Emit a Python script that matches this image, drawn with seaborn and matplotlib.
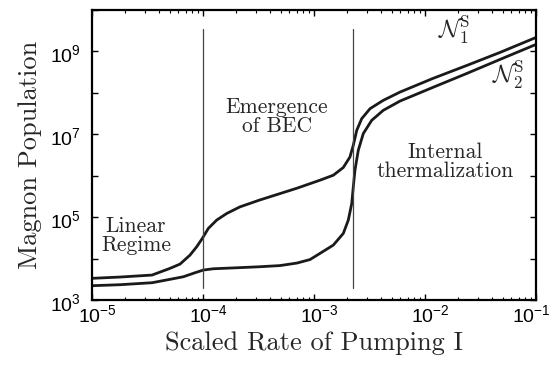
import numpy as np
import pandas as pd
import matplotlib
matplotlib.use("Agg")
import matplotlib.pyplot as plt
import matplotlib.ticker as mticker
import matplotlib.transforms as mtransforms
import seaborn as sns

# ---- data (log10 values) ----
n1_log_pump = [-5.000, -4.748, -4.459, -4.297, -4.207, -4.117, -4.057, -4.006, -3.952, -3.877,
               -3.786, -3.667, -3.493, -3.153, -2.946, -2.826, -2.736, -2.676, -2.646,
               -2.615, -2.570, -2.495, -2.376, -2.225, -1.928, -1.622, -1.324, -1.000]
n1_log_pop = [3.523, 3.554, 3.602, 3.764, 3.867, 4.084, 4.284, 4.487, 4.728, 4.928,
              5.089, 5.248, 5.410, 5.699, 5.892, 6.012, 6.198, 6.453, 6.735,
              7.096, 7.378, 7.619, 7.819, 8.019, 8.349, 8.663, 8.976, 9.337]

n2_log_pump = [-5.000, -4.748, -4.459, -4.297, -4.177, -4.072, -3.997, -3.907, -3.696, -3.493,
               -3.306, -3.153, -3.036, -2.946, -2.826, -2.736, -2.691, -2.660, -2.646, -2.631,
               -2.601, -2.556, -2.480, -2.376, -2.225, -1.928, -1.622, -1.324, -1.000]
n2_log_pop = [3.345, 3.369, 3.417, 3.499, 3.561, 3.658, 3.723, 3.754, 3.778, 3.802,
              3.831, 3.892, 3.976, 4.125, 4.325, 4.607, 4.928, 5.330, 5.730, 6.133,
              6.614, 7.017, 7.337, 7.578, 7.802, 8.133, 8.470, 8.807, 9.169]

regime_boundaries = [1.0e-4, 2.23e-3]
x_tick_values = [1e-5, 1e-4, 1e-3, 1e-2, 1e-1]
x_tick_labels = [r"$10^{-5}$", r"$10^{-4}$", r"$10^{-3}$", r"$10^{-2}$", r"$10^{-1}$"]
y_tick_values = [1e3, 1e4, 1e5, 1e6, 1e7, 1e8, 1e9, 1e10]
y_tick_labels = [r"$10^{3}$", "", r"$10^{5}$", "", r"$10^{7}$", "", r"$10^{9}$", ""]

df = pd.concat([
    pd.DataFrame({"pump": np.power(10.0, n1_log_pump), "pop": np.power(10.0, n1_log_pop), "series": "N1"}),
    pd.DataFrame({"pump": np.power(10.0, n2_log_pump), "pop": np.power(10.0, n2_log_pop), "series": "N2"}),
], ignore_index=True)

# ---- style ----
sns.set_style("ticks")
plt.rcParams["font.family"] = ["Liberation Sans", "DejaVu Sans"]
plt.rcParams["mathtext.fontset"] = "custom"
plt.rcParams["mathtext.rm"] = "Liberation Sans"
plt.rcParams["mathtext.it"] = "Liberation Sans:italic"
plt.rcParams["mathtext.bf"] = "Liberation Sans:bold"

fig = plt.figure(figsize=(5.52, 3.69), dpi=100)
ax = fig.add_axes([92/552, 1 - 300/369, (536-92)/552, (300-10)/369])

sns.lineplot(data=df, x="pump", y="pop", hue="series", palette=["#1a1a1a", "#1a1a1a"],
             linewidth=2.0, legend=False, sort=False, ax=ax)

ax.set_xscale("log")
ax.set_yscale("log")
ax.set_xlim(1e-5, 1e-1)
ax.set_ylim(1e3, 1e10)

for xb in regime_boundaries:
    ax.plot([xb, xb], [10**3.3, 10**9.55], color="#444444", linewidth=0.9)

ax.xaxis.set_major_locator(mticker.FixedLocator(x_tick_values))
ax.xaxis.set_major_formatter(mticker.FixedFormatter(x_tick_labels))
ax.yaxis.set_major_locator(mticker.FixedLocator(y_tick_values))
ax.yaxis.set_major_formatter(mticker.FixedFormatter(y_tick_labels))
ax.xaxis.set_minor_locator(mticker.LogLocator(base=10, subs=np.arange(2, 10)))
ax.yaxis.set_minor_locator(mticker.LogLocator(base=10, subs=np.arange(2, 10)))
ax.xaxis.set_minor_formatter(mticker.NullFormatter())
ax.yaxis.set_minor_formatter(mticker.NullFormatter())

ax.tick_params(which="both", direction="in", top=True, right=True, colors="black")
ax.tick_params(which="major", length=4, width=1.0, labelsize=14)
ax.tick_params(which="minor", length=2, width=0.8)
ax.tick_params(axis="x", which="major", pad=3)
ax.tick_params(axis="y", which="major", pad=8)
for s in ax.spines.values():
    s.set_linewidth(1.6)
    s.set_color("black")

# MATLAB-like placement: base "10" centred on the tick (last label kept inside figure)
xlabels = ax.get_xticklabels()
for i, lab in enumerate(xlabels):
    dx = 5 if i < len(xlabels) - 1 else -5
    lab.set_transform(lab.get_transform() +
                      mtransforms.ScaledTranslation(dx/100, 0, fig.dpi_scale_trans))
yshift = mtransforms.ScaledTranslation(0, -2/100, fig.dpi_scale_trans)
for lab in ax.get_yticklabels():
    lab.set_transform(lab.get_transform() + yshift)

ax.set_xlabel("Scaled Rate of Pumping I", family="cmr10", fontsize=19, labelpad=4)
ax.set_ylabel("Magnon Population", family="cmr10", fontsize=19, labelpad=6)

def ptext(px, py, s, **kw):
    fig.text(px/552, 1 - py/369, s, ha="center", va="center", **kw)

ptext(136, 236, "Linear\nRegime", family="cmr10", fontsize=15.5, linespacing=0.95)
ptext(277, 117, "Emergence\nof BEC", family="cmr10", fontsize=15.5, linespacing=0.95)
ptext(445, 162, "Internal\nthermalization", family="cmr10", fontsize=15.5, linespacing=0.95)
ptext(454, 30, r"$\mathcal{N}_1^{\mathrm{S}}$", fontsize=17.5, math_fontfamily="cm")
ptext(508, 75, r"$\mathcal{N}_2^{\mathrm{S}}$", fontsize=17.5, math_fontfamily="cm")

fig.savefig("out.png", dpi=100)
